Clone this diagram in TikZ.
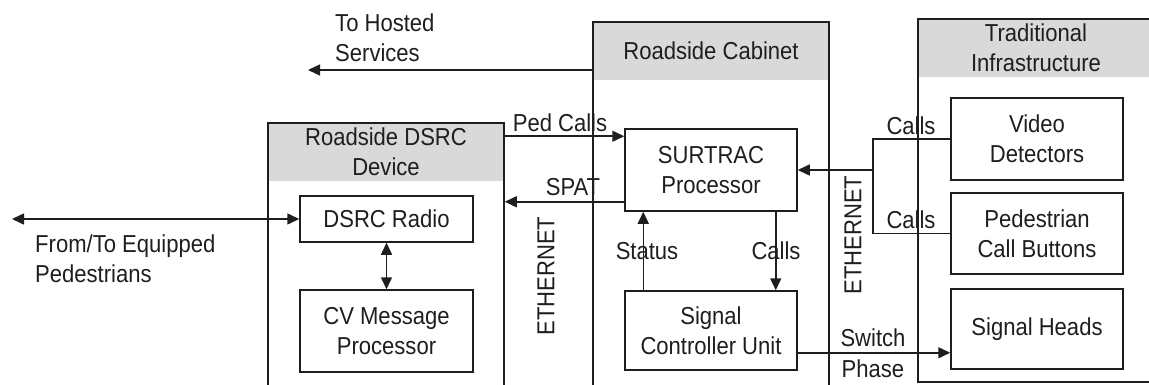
\documentclass[tikz,border=0pt]{standalone}
\usepackage{fontspec}
\setmainfont{Liberation Sans}[FakeStretch=0.9]
\usetikzlibrary{arrows.meta,calc}
\definecolor{hdr}{RGB}{217,217,217}
\definecolor{ink}{RGB}{30,30,30}
\begin{document}
\begin{tikzpicture}[x=1pt,y=-1pt,
  every node/.style={font=\fontsize{24.5}{30}\selectfont, text=ink, inner sep=0pt, align=center},
  box/.style={draw=ink, line width=1.5pt, fill=white},
  cont/.style={draw=ink, line width=1.5pt},
  hdrbox/.style={fill=hdr},
  arr/.style={draw=ink, line width=1.5pt, -{Triangle[length=12pt,width=11pt]}},
  darr/.style={draw=ink, line width=1.5pt, {Triangle[length=12pt,width=11pt]}-{Triangle[length=12pt,width=11pt]}},
  wire/.style={draw=ink, line width=1.5pt},
  lbl/.style={anchor=center}
]
\useasboundingbox (0,0) rectangle (1149,385);
\begin{scope}
\clip (0,0) rectangle (1149,385);
% container headers
\node[hdrbox, minimum width=236, minimum height=58] (dsrch) at (386,152) {Roadside DSRC\\Device};
\node[hdrbox, minimum width=236, minimum height=58] (cabh) at (711,51) {Roadside Cabinet};
\node[hdrbox, minimum width=236, minimum height=58] (trah) at (1036,48) {Traditional\\Infrastructure};
% container outlines
\node[cont, minimum width=236, minimum height=277] (dsrcdev) at (386,261.5) {};
\node[cont, minimum width=236, minimum height=378] (cab) at (711,211) {};
\node[cont, minimum width=236, minimum height=363] (tra) at (1036,200.5) {};
% boxes
\node[box, minimum width=172, minimum height=82] (surtrac) at (711,170) {SURTRAC\\Processor};
\node[box, minimum width=172, minimum height=79] (scu) at (711,330.5) {Signal\\Controller Unit};
\node[box, minimum width=172, minimum height=82] (video) at (1037,139) {Video\\Detectors};
\node[box, minimum width=172, minimum height=81] (pedbtn) at (1037,233.5) {Pedestrian\\Call Buttons};
\node[box, minimum width=172, minimum height=80] (heads) at (1037,329) {Signal Heads};
\node[box, minimum width=173, minimum height=46] (radio) at (386.5,219) {DSRC Radio};
\node[box, minimum width=173, minimum height=82] (cvmp) at (386.5,331) {CV Message\\Processor};
% free ends
\coordinate (hs) at (308,70);
\coordinate (ped) at (12,219);
\coordinate (bus) at (873,170);
\coordinate (pc) at ($(surtrac.north west)+(0,8)$);
\coordinate (sp) at ($(surtrac.south west)+(0,-10)$);
\coordinate (st) at ($(scu.north west)+(19,0)$);
\coordinate (cl) at ($(surtrac.south east)+(-22,0)$);
\coordinate (sw) at ($(scu.south east)+(0,-18)$);
% connectors
\draw[arr] (cab.west |- hs) -- (hs);
\draw[darr] (ped) -- (radio.west);
\draw[darr] (radio.south) -- (cvmp.north);
\draw[arr] (dsrcdev.east |- pc) -- (pc);
\draw[arr] (sp) -- (dsrcdev.east |- sp);
\draw[arr] (st) -- (st |- surtrac.south);
\draw[arr] (cl) -- (cl |- scu.north);
\draw[wire] (video.west) -- (bus |- video.west) -- (bus |- pedbtn.west) -- (pedbtn.west);
\draw[arr] (bus |- surtrac.east) -- (surtrac.east);
\draw[arr] (sw) -- (heads.west |- sw);
% labels
\node[anchor=west, align=left] (hostlbl) at (335,37.5) {To Hosted\\Services};
\node[anchor=west, align=left] (pedlbl) at (35,258.5) {From/To Equipped\\Pedestrians};
\node[lbl] (pclbl) at (560,123) {Ped Calls};
\node[lbl] (splbl) at (573,187) {SPAT};
\node[lbl] (stlbl) at (647,251) {Status};
\node[lbl] (cllbl) at (776,251) {Calls};
\node[lbl] (vclbl) at (911,126) {Calls};
\node[lbl] (pbclbl) at (911,220) {Calls};
\node[lbl] (swlbl) at (873,338) {Switch};
\node[lbl] (phlbl) at (873,369) {Phase};
\node[rotate=90] (eth1) at (546,276) {ETHERNET};
\node[rotate=90] (eth2) at (853,235) {ETHERNET};
\end{scope}
\end{tikzpicture}
\end{document}
